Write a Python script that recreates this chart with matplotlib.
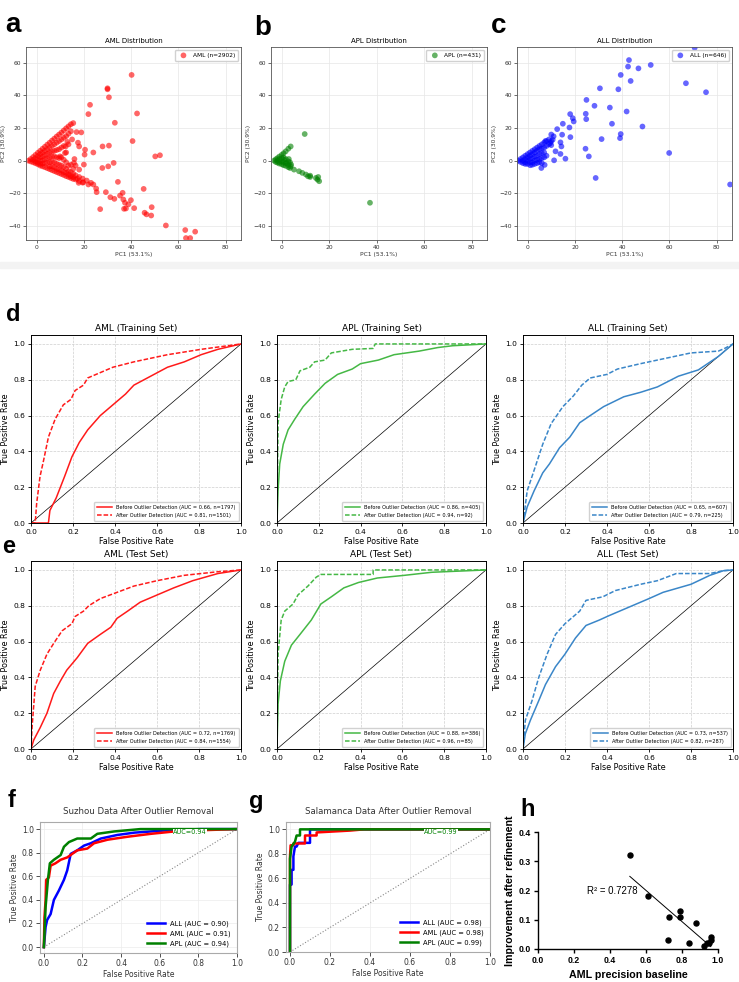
import numpy as np
import matplotlib.pyplot as plt
from matplotlib.patches import Rectangle

# ---- data: PCA scatter (PC1, PC2) ----
aml_pc = [
    (-3.5, 0), (-2.5, 1), (-2.5, -0.5), (-1.5, 2.2), (-1.5, 0.5), (-1.5, -1),
    (-0.5, 3.5), (-0.5, 1.5), (-0.5, -0.5), (-0.5, -1.6),
    (0.5, 4.8), (0.5, 2.8), (0.5, 0.8), (0.5, -1.2), (0.5, -2.2),
    (1.5, 6), (1.5, 4), (1.5, 2), (1.5, 0), (1.5, -2), (1.5, -3),
    (2.5, 7.3), (2.5, 5), (2.5, 2.6), (2.5, 0.2), (2.5, -1.8), (2.5, -3.5),
    (3.5, 8.5), (3.5, 6), (3.5, 3.5), (3.5, 1), (3.5, -1.5), (3.5, -4),
    (4.5, 9.8), (4.5, 7), (4.5, 4.2), (4.5, 1.4), (4.5, -1.4), (4.5, -4.6),
    (5.5, 11), (5.5, 8), (5.5, 5), (5.5, 2), (5.5, -1), (5.5, -3.5), (5.5, -5.2),
    (6.5, 12.3), (6.5, 9), (6.5, 5.5), (6.5, 2.5), (6.5, -0.5), (6.5, -3.5), (6.5, -5.8),
    (7.5, 13.5), (7.5, 10), (7.5, 6), (7.5, 2.5), (7.5, -1), (7.5, -4), (7.5, -6.4),
    (8.5, 14.8), (8.5, 11), (8.5, 6.5), (8.5, 2), (8.5, -2), (8.5, -5), (8.5, -7),
    (9.5, 16), (9.5, 12), (9.5, 7), (9.5, 1.5), (9.5, -2.5), (9.5, -5.5), (9.5, -7.6),
    (10.5, 17.2), (10.5, 13), (10.5, 8), (10.5, 2), (10.5, -3), (10.5, -6), (10.5, -8.2),
    (11.5, 18.5), (11.5, 14), (11.5, 9), (11.5, 0.5), (11.5, -4), (11.5, -7), (11.5, -8.8),
    (12.5, 19.8), (12.5, 15), (12.5, 5), (12.5, -1), (12.5, -5), (12.5, -7.5), (12.5, -9.5),
    (13.5, 21), (13.5, 16.5), (13.5, 10), (13.5, -3), (13.5, -6.5), (13.5, -8.5), (13.5, -10),
    (14.5, 22.3), (14.5, 18), (14.5, -2.5), (14.5, -7), (14.5, -9.5), (14.5, -10.6),
    (15.5, 23), (15.5, -5), (15.5, -8), (15.5, -10), (15.5, -11.2),
    (16.5, -3), (16.5, -9), (16.5, -11.5), (18, -10), (18, -12.5), (19.5, -11), (19.5, -13.5),
    (16.9, 17.5), (18.9, 17.3), (18, 8.7), (12.3, 8.7), (15.8, -1.4), (16, 1), (18, -5.5),
    (20, -2.4), (20.3, 3.7), (20.5, 6.7), (12, 4.7), (9.9, 2.6), (17.5, 11), (13, 11.5), (15, 13),
    (17.2, -11), (17.8, -13.6), (19.7, -13.2), (21.2, -12.2), (21.9, -14.6), (23, -13.6),
    (24, -14.6), (25.2, -17.1), (25.4, -19.3),
    (40.2, 52.5), (30, 44.3), (30, 43.7), (30.6, 38.8), (22.6, 34.2), (21.9, 28.5), (42.5, 28.9),
    (33.1, 23.2), (40.6, 12), (50.2, 2.6), (52.2, 3.3), (27.9, 8.7), (30.6, 9.2), (24, 5),
    (32.6, -1.4), (30.3, -3.5), (27.8, -4.5), (34.4, -13), (45.3, -17.3), (29.3, -19.3),
    (31.2, -22.4), (32.9, -23.4), (35.3, -21.4), (36.4, -19.7), (36.7, -23.8), (37.4, -25.8),
    (37.8, -29.3), (38.8, -26.8), (39.9, -24.2), (41.3, -29.1), (37, -29.5), (26.9, -29.7),
    (45.7, -31.9), (46.5, -32.9), (48.7, -28.5), (48.5, -33.6), (54.7, -39.7), (62.9, -42.5),
    (67.1, -43.5), (63.2, -47.4), (65, -47.4),
]
apl_pc = [
    (-3.2, 0), (-2.5, 0.8), (-2.5, -0.8), (-1.8, 1.5), (-1.8, 0), (-1.8, -1.2),
    (-1, 2.5), (-1, 0.8), (-1, -0.8), (-1, -1.8), (0, 3.5), (0, 1.5), (0, -0.5), (0, -2.2),
    (0.8, 4.5), (0.8, 2), (0.8, -1), (0.8, -2.8), (1.7, 5.7), (1.7, 1), (1.7, -1.5), (1.7, -3.2),
    (2.8, 7.3), (2.8, -0.5), (2.8, -2.5), (2.8, -4), (3.8, 8.7), (3.5, -1), (3.8, -3.5),
    (3.5, -4.5), (4, -2.5), (2, -1.5), (3, 1), (1, 0.5), (5.2, -5.5), (7.3, -6.5), (8.7, -7.5),
    (10.2, -8.5), (11.1, -9.6), (12, -9.2), (12, -10), (14.4, -10.6), (15.1, -11.6),
    (15.8, -12.6), (15.4, -10), (9.7, 16.3), (37.2, -25.8),
]
all_pc = [
    (-3.8, 0), (-3, 1), (-3, -0.8), (-2, 2), (-2, 0), (-2, -1.5), (-1, 3), (-1, 1), (-1, -1),
    (-1, -2), (0, 4), (0, 2), (0, 0), (0, -2), (1, 5), (1, 3), (1, 1), (1, -1), (1.1, -2.8),
    (2, 6), (2, 4), (2, 1.5), (2, -1), (2, -2.5), (3, 7), (3, 5), (3, 2.5), (3, 0), (3, -2),
    (4, 8), (4, 6), (4, 3), (4, 0.5), (4, -1.5), (5, 9), (5, 7), (5, 4), (5, 1), (5, -1),
    (6, 10), (6, 7.5), (6, 4.5), (6, 1.5), (6, -1.5), (7, 11), (7, 8), (7, 5), (7, 2),
    (8, 12), (8, 9), (8, 3), (9, 13), (9, 10), (10, 16), (10, 12), (10, 9.5),
    (70.7, 69.1), (42.9, 61.6), (42.5, 57.6), (46.9, 56.5), (52.1, 58.6), (39.4, 52.5),
    (43.6, 48.8), (67, 47.4), (75.5, 41.9), (30.6, 44.3), (38.4, 43.7), (24.9, 37.2),
    (28.3, 33.6), (34.8, 32.5), (24.6, 28.7), (41.9, 30.1), (18, 28.5), (19.1, 26), (19.5, 24),
    (14.9, 22.6), (24.8, 25.4), (17.7, 20.3), (35.7, 22.6), (48.6, 20.9), (39.4, 16.3),
    (39.1, 13.8), (31.3, 13.2), (18.1, 14.4), (14.6, 15.9), (12.5, 19.3), (14.3, 8.7),
    (13.9, 11.2), (24.5, 7.3), (59.9, 4.7), (25.9, 2.6), (13.9, 4.1), (16, 1.2), (11.2, 0.2),
    (28.8, -10.6), (85.7, -14.6), (7.2, -2.6), (5.8, -4.5), (11.8, 5.7), (9.6, 10.8),
    (7.5, 12), (11, 14.9), (10.6, 12.8),
]

# ---- data: ROC curves, training set (before / after outlier detection) ----
d_aml_b_fpr = [0, 0.083, 0.09, 0.12, 0.16, 0.195, 0.23, 0.27, 0.33, 0.39, 0.45, 0.49, 0.57, 0.65, 0.73, 0.81, 0.89, 1.0]
d_aml_b_tpr = [0, 0, 0.07, 0.14, 0.26, 0.37, 0.45, 0.52, 0.60, 0.66, 0.72, 0.77, 0.82, 0.87, 0.90, 0.94, 0.97, 1.0]
d_aml_a_fpr = [0, 0.02, 0.027, 0.043, 0.06, 0.083, 0.115, 0.154, 0.19, 0.21, 0.25, 0.27, 0.33, 0.39, 0.49, 0.65, 0.81, 1.0]
d_aml_a_tpr = [0, 0, 0.11, 0.26, 0.35, 0.48, 0.58, 0.66, 0.69, 0.74, 0.77, 0.81, 0.84, 0.87, 0.90, 0.94, 0.97, 1.0]
d_apl_b_fpr = [0, 0.005, 0.013, 0.03, 0.053, 0.085, 0.125, 0.18, 0.23, 0.29, 0.36, 0.40, 0.485, 0.56, 0.68, 0.77, 0.84, 1.0]
d_apl_b_tpr = [0, 0.18, 0.33, 0.44, 0.52, 0.58, 0.65, 0.72, 0.78, 0.83, 0.86, 0.89, 0.91, 0.94, 0.96, 0.98, 0.99, 1.0]
d_apl_a_fpr = [0, 0.005, 0.02, 0.037, 0.053, 0.09, 0.11, 0.157, 0.18, 0.23, 0.26, 0.36, 0.46, 0.47, 1.0]
d_apl_a_tpr = [0, 0.56, 0.69, 0.76, 0.79, 0.80, 0.85, 0.87, 0.90, 0.91, 0.95, 0.97, 0.975, 1.0, 1.0]
d_all_b_fpr = [0, 0.02, 0.053, 0.094, 0.126, 0.174, 0.223, 0.27, 0.32, 0.384, 0.48, 0.56, 0.64, 0.74, 0.835, 0.93, 1.0]
d_all_b_tpr = [0, 0.09, 0.18, 0.28, 0.33, 0.42, 0.48, 0.56, 0.60, 0.65, 0.705, 0.73, 0.76, 0.82, 0.855, 0.93, 1.0]
d_all_a_fpr = [0, 0.02, 0.053, 0.094, 0.134, 0.19, 0.24, 0.28, 0.32, 0.40, 0.45, 0.56, 0.64, 0.80, 0.93, 0.96, 1.0]
d_all_a_tpr = [0, 0.18, 0.295, 0.44, 0.555, 0.65, 0.71, 0.77, 0.81, 0.83, 0.86, 0.89, 0.91, 0.95, 0.96, 0.975, 1.0]

# ---- data: ROC curves, test set ----
e_aml_b_fpr = [0, 0.013, 0.044, 0.076, 0.108, 0.14, 0.17, 0.22, 0.27, 0.33, 0.38, 0.41, 0.46, 0.52, 0.60, 0.68, 0.77, 0.89, 1.0]
e_aml_b_tpr = [0, 0.05, 0.12, 0.20, 0.31, 0.38, 0.44, 0.51, 0.59, 0.64, 0.68, 0.73, 0.77, 0.82, 0.86, 0.90, 0.94, 0.98, 1.0]
e_aml_a_fpr = [0, 0.005, 0.02, 0.044, 0.076, 0.108, 0.148, 0.195, 0.21, 0.25, 0.275, 0.33, 0.41, 0.49, 0.60, 0.73, 0.89, 1.0]
e_aml_a_tpr = [0, 0.12, 0.35, 0.44, 0.53, 0.59, 0.66, 0.70, 0.74, 0.77, 0.80, 0.84, 0.875, 0.91, 0.94, 0.97, 0.99, 1.0]
e_apl_b_fpr = [0, 0.005, 0.016, 0.037, 0.069, 0.11, 0.164, 0.21, 0.26, 0.32, 0.39, 0.48, 0.61, 0.74, 1.0]
e_apl_b_tpr = [0, 0.25, 0.38, 0.49, 0.58, 0.64, 0.72, 0.81, 0.85, 0.90, 0.93, 0.955, 0.97, 0.987, 1.0]
e_apl_a_fpr = [0, 0.005, 0.02, 0.037, 0.077, 0.10, 0.148, 0.188, 0.21, 0.46, 0.46, 1.0]
e_apl_a_tpr = [0, 0.53, 0.72, 0.77, 0.81, 0.86, 0.91, 0.96, 0.975, 0.975, 1.0, 1.0]
e_all_b_fpr = [0, 0.011, 0.035, 0.075, 0.107, 0.155, 0.20, 0.25, 0.30, 0.363, 0.41, 0.50, 0.60, 0.667, 0.80, 0.89, 0.955, 1.0]
e_all_b_tpr = [0, 0.085, 0.16, 0.27, 0.36, 0.46, 0.53, 0.62, 0.69, 0.72, 0.745, 0.79, 0.84, 0.875, 0.92, 0.97, 0.996, 1.0]
e_all_a_fpr = [0, 0.011, 0.043, 0.075, 0.115, 0.155, 0.20, 0.27, 0.30, 0.38, 0.44, 0.56, 0.64, 0.73, 0.89, 0.955, 1.0]
e_all_a_tpr = [0, 0.16, 0.27, 0.40, 0.53, 0.64, 0.70, 0.77, 0.83, 0.85, 0.885, 0.92, 0.94, 0.98, 0.98, 0.996, 1.0]

# ---- data: external validation ROC ----
f_all_fpr = [0, 0.009, 0.017, 0.035, 0.052, 0.078, 0.104, 0.121, 0.139, 0.173, 0.208, 0.243, 0.295, 0.38, 0.47, 0.64, 0.81, 1.0]
f_all_tpr = [0, 0.17, 0.23, 0.28, 0.40, 0.48, 0.57, 0.65, 0.79, 0.82, 0.86, 0.88, 0.92, 0.95, 0.97, 0.99, 1.0, 1.0]
f_aml_fpr = [0, 0.003, 0.009, 0.012, 0.026, 0.035, 0.06, 0.087, 0.121, 0.173, 0.225, 0.26, 0.33, 0.433, 0.555, 0.676, 0.81, 1.0]
f_aml_tpr = [0, 0.25, 0.40, 0.57, 0.59, 0.69, 0.71, 0.74, 0.76, 0.82, 0.835, 0.88, 0.91, 0.935, 0.96, 0.98, 0.99, 1.0]
f_apl_fpr = [0, 0.009, 0.021, 0.031, 0.052, 0.087, 0.104, 0.13, 0.173, 0.243, 0.277, 0.364, 0.50, 1.0]
f_apl_tpr = [0, 0.34, 0.57, 0.71, 0.74, 0.78, 0.85, 0.89, 0.92, 0.92, 0.96, 0.98, 1.0, 1.0]

g_all_fpr = [0, 0, 0.008, 0.008, 0.017, 0.017, 0.025, 0.033, 0.042, 0.10, 0.10, 1.0]
g_all_tpr = [0, 0.55, 0.55, 0.67, 0.67, 0.78, 0.86, 0.86, 0.89, 0.89, 1.0, 1.0]
g_aml_fpr = [0, 0, 0.003, 0.017, 0.017, 0.075, 0.075, 0.133, 0.133, 0.30, 0.37, 1.0]
g_aml_tpr = [0, 0.78, 0.87, 0.87, 0.885, 0.885, 0.95, 0.95, 0.975, 0.99, 1.0, 1.0]
g_apl_fpr = [0, 0, 0.008, 0.025, 0.033, 0.05, 0.05, 1.0]
g_apl_tpr = [0, 0.76, 0.86, 0.90, 0.95, 0.95, 1.0, 1.0]

# ---- data: precision baseline vs improvement ----
h_base = [0.51, 0.61, 0.73, 0.79, 0.79, 0.88, 0.72, 0.84, 0.92, 0.94, 0.96, 0.96, 0.95]
h_impr = [0.32, 0.18, 0.11, 0.13, 0.11, 0.09, 0.03, 0.02, 0.01, 0.02, 0.04, 0.03, 0.02]

W, H = 739, 982
fig = plt.figure(figsize=(W / 100, H / 100), dpi=100)
fig.patches.append(Rectangle((0, 1 - 268 / H), 1, 6 / H, transform=fig.transFigure,
                             color='#f3f3f3', zorder=0))


def add_ax(l, t, r, b):
    return fig.add_axes([l / W, 1 - b / H, (r - l) / W, (b - t) / H])


def panel_label(x, y, s, size):
    fig.text(x / W, 1 - y / H, s, fontsize=size, fontweight='bold',
             family='Liberation Sans', va='baseline', ha='left')


# ---- row 1: PCA distributions ----
def pca_panel(ax, pts, color, title, label):
    pts = np.array(pts)
    ax.scatter(pts[:, 0], pts[:, 1], s=17, c=color, alpha=0.6, edgecolors='none', label=label)
    ax.set_xlim(-4.5, 86.5)
    ax.set_ylim(-48.6, 69.6)
    ax.set_xticks([0, 20, 40, 60, 80])
    ax.set_yticks([-40, -20, 0, 20, 40, 60])
    ax.grid(True, color='#e6e6e6', lw=0.5)
    ax.set_axisbelow(True)
    ax.tick_params(labelsize=4.3, length=2, width=0.5, pad=1.5, colors='#333333')
    ax.set_xlabel('PC1 (53.1%)', fontsize=4.3, labelpad=1.5, color='#333333')
    ax.set_ylabel('PC2 (30.9%)', fontsize=4.3, labelpad=1.5, color='#333333')
    ax.set_title(title, fontsize=5.0, pad=3)
    ax.legend(loc='upper right', fontsize=4.2, handletextpad=0.6, borderpad=0.5,
              framealpha=0.9, edgecolor='#cccccc', fancybox=True)
    for s in ax.spines.values():
        s.set_linewidth(0.6)
        s.set_color('#555555')


pca_panel(add_ax(26, 47, 241, 240), aml_pc, 'red', 'AML Distribution', 'AML (n=2902)')
pca_panel(add_ax(271, 47, 487, 240), apl_pc, 'green', 'APL Distribution', 'APL (n=431)')
pca_panel(add_ax(517, 47, 732, 240), all_pc, 'blue', 'ALL Distribution', 'ALL (n=646)')

# ---- rows 2-3: ROC before / after outlier detection ----
RED, GREEN, BLUE = '#ff1a1a', '#45b845', '#3a86c8'


def roc_panel(ax, bf, bt, af, at, color, title, lab_b, lab_a):
    ax.plot([0, 1], [0, 1], color='black', lw=0.5)
    ax.plot(bf, bt, color=color, lw=1.1, label=lab_b)
    ax.plot(af, at, color=color, lw=1.1, dashes=(3, 1.3), label=lab_a)
    ax.set_xlim(0, 1)
    ax.set_ylim(0, 1.05)
    ax.set_xticks([0, 0.2, 0.4, 0.6, 0.8, 1.0])
    ax.set_yticks([0, 0.2, 0.4, 0.6, 0.8, 1.0])
    ax.grid(True, ls='--', color='#cfcfcf', lw=0.5)
    ax.tick_params(labelsize=5.4, length=2.5, width=0.6, pad=1.5)
    ax.set_xlabel('False Positive Rate', fontsize=5.8, labelpad=1.5)
    ax.set_ylabel('True Positive Rate', fontsize=5.8, labelpad=2.5)
    ax.set_title(title, fontsize=6.5, pad=3)
    ax.legend(loc='lower right', fontsize=3.6, handlelength=3, borderpad=0.6,
              labelspacing=0.5, framealpha=0.9, edgecolor='#cccccc')
    for s in ax.spines.values():
        s.set_linewidth(0.7)


roc_panel(add_ax(31, 335, 241, 523), d_aml_b_fpr, d_aml_b_tpr, d_aml_a_fpr, d_aml_a_tpr, RED,
          'AML (Training Set)', 'Before Outlier Detection (AUC = 0.66, n=1797)',
          'After Outlier Detection (AUC = 0.81, n=1501)')
roc_panel(add_ax(277, 335, 486, 523), d_apl_b_fpr, d_apl_b_tpr, d_apl_a_fpr, d_apl_a_tpr, GREEN,
          'APL (Training Set)', 'Before Outlier Detection (AUC = 0.86, n=405)',
          'After Outlier Detection (AUC = 0.94, n=92)')
roc_panel(add_ax(523, 335, 733, 523), d_all_b_fpr, d_all_b_tpr, d_all_a_fpr, d_all_a_tpr, BLUE,
          'ALL (Training Set)', 'Before Outlier Detection (AUC = 0.65, n=607)',
          'After Outlier Detection (AUC = 0.79, n=225)')
roc_panel(add_ax(31, 561, 241, 749), e_aml_b_fpr, e_aml_b_tpr, e_aml_a_fpr, e_aml_a_tpr, RED,
          'AML (Test Set)', 'Before Outlier Detection (AUC = 0.72, n=1769)',
          'After Outlier Detection (AUC = 0.84, n=1554)')
roc_panel(add_ax(277, 561, 486, 749), e_apl_b_fpr, e_apl_b_tpr, e_apl_a_fpr, e_apl_a_tpr, GREEN,
          'APL (Test Set)', 'Before Outlier Detection (AUC = 0.88, n=386)',
          'After Outlier Detection (AUC = 0.96, n=85)')
roc_panel(add_ax(523, 561, 733, 749), e_all_b_fpr, e_all_b_tpr, e_all_a_fpr, e_all_a_tpr, BLUE,
          'ALL (Test Set)', 'Before Outlier Detection (AUC = 0.73, n=537)',
          'After Outlier Detection (AUC = 0.82, n=287)')


# ---- row 4: external data ----
def ext_panel(ax, curves, title, auc_text, ylim):
    ax.plot([0, 1], [0, 1], color='#888888', lw=0.8, ls=':')
    for fpr, tpr, color, lab in curves:
        ax.plot(fpr, tpr, color=color, lw=1.8, label=lab)
    ax.text(0.67, 0.975, auc_text, color='green', fontsize=4.7, va='center',
            bbox=dict(facecolor='white', edgecolor='none', pad=0.3))
    ax.set_xlim(-0.02, 1.0)
    ax.set_ylim(*ylim)
    ax.set_xticks([0, 0.2, 0.4, 0.6, 0.8, 1.0])
    ax.set_yticks([0, 0.2, 0.4, 0.6, 0.8, 1.0])
    ax.grid(True, color='#ececec', lw=0.5)
    ax.set_axisbelow(True)
    ax.tick_params(labelsize=5.5, length=3, width=0.6, pad=1.5, colors='#333333',
                   direction='out')
    ax.set_xlabel('False Positive Rate', fontsize=5.5, labelpad=1, color='#333333')
    ax.set_ylabel('True Positive Rate', fontsize=5.5, labelpad=2, color='#333333')
    ax.set_title(title, fontsize=6.2, pad=6, color='#333333')
    ax.legend(loc='lower right', fontsize=4.9, frameon=False, handlelength=2.6,
              labelspacing=0.5)
    for s in ax.spines.values():
        s.set_linewidth(0.8)
        s.set_color('#aaaaaa')


ext_panel(add_ax(40, 822, 237, 953),
          [(f_all_fpr, f_all_tpr, 'blue', 'ALL (AUC = 0.90)'),
           (f_aml_fpr, f_aml_tpr, 'red', 'AML (AUC = 0.91)'),
           (f_apl_fpr, f_apl_tpr, 'green', 'APL (AUC = 0.94)')],
          'Suzhou Data After Outlier Removal', 'AUC=0.94', (-0.05, 1.06))
ext_panel(add_ax(286, 822, 490, 952),
          [(g_all_fpr, g_all_tpr, 'blue', 'ALL (AUC = 0.98)'),
           (g_aml_fpr, g_aml_tpr, 'red', 'AML (AUC = 0.98)'),
           (g_apl_fpr, g_apl_tpr, 'green', 'APL (AUC = 0.99)')],
          'Salamanca Data After Outlier Removal', 'AUC=0.99', (0, 1.06))

# ---- panel h ----
axh = add_ax(538, 832, 718, 949)
hx = np.array(h_base)
hy = np.array(h_impr)
slope, icpt = np.polyfit(hx, hy, 1)
xl = np.array([hx.min(), hx.max()])
axh.plot(xl, slope * xl + icpt, color='black', lw=0.7)
axh.scatter(hx, hy, s=13, color='black', zorder=3, clip_on=False)
axh.text(0.27, 0.2, 'R² = 0.7278', fontsize=6.9, family='Liberation Sans', va='center')
axh.set_xlim(0, 1)
axh.set_ylim(0, 0.4)
axh.set_xticks([0, 0.2, 0.4, 0.6, 0.8, 1.0])
axh.set_yticks([0, 0.1, 0.2, 0.3, 0.4])
axh.set_xticklabels(['0.0', '0.2', '0.4', '0.6', '0.8', '1.0'])
axh.set_yticklabels(['0.0', '0.1', '0.2', '0.3', '0.4'])
for s in ['top', 'right']:
    axh.spines[s].set_visible(False)
for s in ['left', 'bottom']:
    axh.spines[s].set_linewidth(1.0)
axh.tick_params(length=3, width=1.0, pad=2)
for lab in axh.get_xticklabels() + axh.get_yticklabels():
    lab.set_fontsize(6.3)
    lab.set_fontweight('bold')
    lab.set_family('Liberation Sans')
axh.set_xlabel('AML precision baseline', fontsize=7.7, fontweight='bold',
               family='Liberation Sans', labelpad=4)
axh.set_ylabel('Improvement after refinement', fontsize=7.7, fontweight='bold',
               family='Liberation Sans', labelpad=3)

# ---- panel letters ----
panel_label(5, 32, 'a', 20)
panel_label(254, 35, 'b', 20)
panel_label(491, 33, 'c', 20)
panel_label(6, 321, 'd', 17)
panel_label(2, 553, 'e', 17)
panel_label(8, 807, 'f', 17)
panel_label(249, 808, 'g', 17)
panel_label(520, 816, 'h', 17)

fig.savefig('out.png', dpi=100)
